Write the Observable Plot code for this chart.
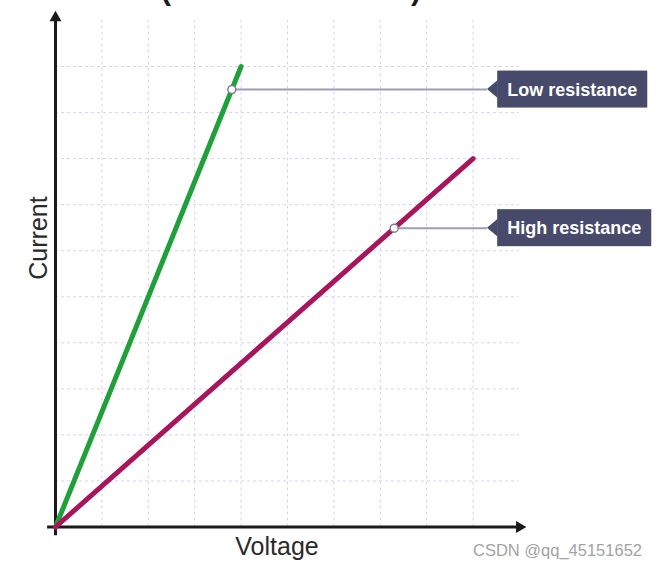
<!DOCTYPE html>
<html><head><meta charset="utf-8">
<script src="https://cdn.jsdelivr.net/npm/d3@7"></script>
<script src="https://cdn.jsdelivr.net/npm/@observablehq/plot@0.6"></script>
<style>
html,body{margin:0;padding:0;background:#fff;}
#chart{position:relative;width:658px;height:568px;overflow:hidden;}
#chart svg{display:block;}
</style></head><body><div id="chart"></div>
<script>
// ---- data ----
const lowVoltage = [0, 4];
const lowCurrent = [0, 10];
const highVoltage = [0, 9];
const highCurrent = [0, 8];
const markerVoltage = [3.8, 7.3];
const markerCurrent = [9.5, 6.49];
const calloutLabels = ["Low resistance", "High resistance"];
const xGrid = [1, 2, 3, 4, 5, 6, 7, 8, 9];
const yGrid = [1, 2, 3, 4, 5, 6, 7, 8, 9, 10];
const xLabel = "Voltage";
const yLabel = "Current";
const watermark = "CSDN @qq_45151652";

// ---- tables built from the arrays ----
const lowLine = lowVoltage.map((v, i) => ({V: v, I: lowCurrent[i]}));
const highLine = highVoltage.map((v, i) => ({V: v, I: highCurrent[i]}));
const markers = markerVoltage.map((v, i) => ({V: v, I: markerCurrent[i], label: calloutLabels[i]}));

// ---- layout / style ----
const FONT = '"Liberation Sans", Arial, sans-serif';
const calloutBoxX = 9.53;   // left edge of callout boxes (x units)
const calloutTipX = 9.31;   // pointer tip of callout boxes (x units)
const gridColor = "#d3d3f0";
const axisColor = "#1a1a1a";

const plot = Plot.plot({
  width: 658,
  height: 568,
  marginLeft: 55,
  marginRight: 139,
  marginTop: 20,
  marginBottom: 41.5,
  style: {fontFamily: FONT, background: "white"},
  x: {domain: [0, 10], axis: null},
  y: {domain: [0, 11], axis: null},
  marks: [
    Plot.ruleX(xGrid, {x: d => d, y1: 0, y2: 11, stroke: gridColor, strokeWidth: 1, strokeDasharray: "3,3"}),
    Plot.ruleY(yGrid, {y: d => d, x1: 0, x2: 10, stroke: gridColor, strokeWidth: 1, strokeDasharray: "3,3"}),
    Plot.ruleX([0], {x: d => d, y1: -0.19, y2: 11.0, stroke: axisColor, strokeWidth: 3}),
    Plot.ruleY([0], {y: d => d, x1: -0.17, x2: 10.0, stroke: axisColor, strokeWidth: 3}),
    Plot.dot([0], {x: 0, y: 11.06, symbol: "triangle2", r: 5.7, fill: axisColor, stroke: "none"}),
    Plot.dot([0], {x: 10.0, y: 0, symbol: "triangle2", r: 5.7, fill: axisColor, stroke: "none", rotate: 90}),
    Plot.line(lowLine, {x: "V", y: "I", stroke: "#20a03a", strokeWidth: 5, strokeLinecap: "round"}),
    Plot.line(highLine, {x: "V", y: "I", stroke: "#a8155a", strokeWidth: 5, strokeLinecap: "round"}),
    Plot.ruleY(markers, {y: "I", x1: "V", x2: () => calloutTipX, stroke: "#9d9db5", strokeWidth: 2}),
    Plot.dot(markers, {x: "V", y: "I", r: 4, fill: "white", stroke: "#7c7c96", strokeWidth: 1.5})
  ]
});

document.getElementById("chart").appendChild(plot);

const svg = d3.select(plot);
const xs = plot.scale("x"), ys = plot.scale("y");

// callout boxes
markers.forEach(m => {
  const cy = ys.apply(m.I);
  const bx = xs.apply(calloutBoxX);
  const tip = xs.apply(calloutTipX);
  const g = svg.append("g");
  const t = g.append("text")
    .attr("x", bx).attr("y", cy).attr("dy", "0.36em")
    .attr("fill", "white").attr("font-family", FONT)
    .attr("font-weight", "bold").attr("font-size", 18)
    .text(m.label);
  const w = t.node().getComputedTextLength();
  const bw = w + 20;
  g.insert("rect", "text").attr("x", bx).attr("y", cy - 18.5)
    .attr("width", bw).attr("height", 37).attr("fill", "#474a6b");
  g.insert("path", "text").attr("d", `M${tip},${cy}L${bx + 0.5},${cy - 9}L${bx + 0.5},${cy + 9}Z`)
    .attr("fill", "#474a6b");
  t.attr("x", bx + bw / 2).attr("text-anchor", "middle");
});

// axis labels
svg.append("text").attr("x", 277).attr("y", 555).attr("text-anchor", "middle")
  .attr("font-family", FONT).attr("font-size", 25).attr("fill", "#2a2a2a").text(xLabel);
svg.append("text").attr("transform", "translate(47,238) rotate(-90)").attr("text-anchor", "middle")
  .attr("font-family", FONT).attr("font-size", 25).attr("fill", "#2a2a2a").text(yLabel);

// cut-off title parentheses at the very top
svg.append("text").attr("x", 166).attr("y", 0).attr("font-family", FONT).attr("font-weight", "bold")
  .attr("font-size", 30).attr("fill", "#1a1a1a").text("(");
svg.append("text").attr("x", 416).attr("y", 0).attr("font-family", FONT).attr("font-weight", "bold")
  .attr("font-size", 30).attr("fill", "#1a1a1a").text(")");

// watermark
svg.append("text").attr("x", 642).attr("y", 556).attr("text-anchor", "end")
  .attr("font-family", FONT).attr("font-size", 16.5).attr("fill", "#a3a3a3").text(watermark);
</script>
</body></html>
